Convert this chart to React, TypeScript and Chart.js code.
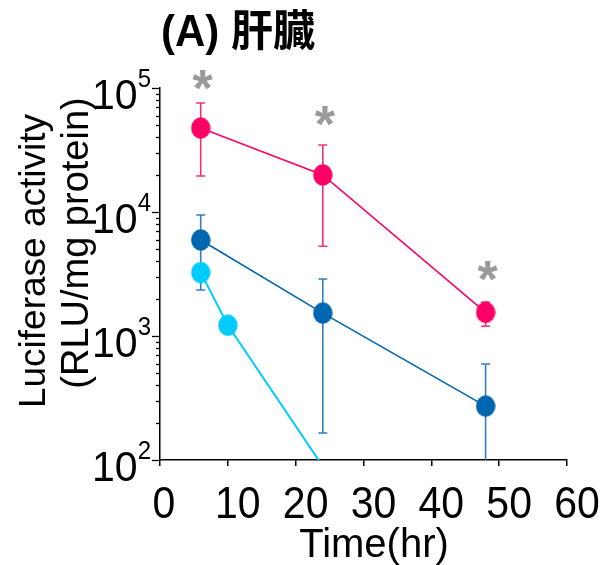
import React, { useEffect, useRef } from 'react';
import { Chart, registerables } from 'chart.js';

Chart.register(...registerables);

// ---- data ----
const timeA = [6, 24, 48];
const seriesA = [47500, 19900, 1550];
const seriesAHi = [75700, 34700, 1870];
const seriesALo = [19500, 5300, 1200];

const timeB = [6, 24, 48];
const seriesB = [5950, 1530, 272];
const seriesBHi = [9460, 2880, 594];
const seriesBLo = [2350, 165, 40];

const timeC = [6, 10, 48];
const seriesC = [3250, 1220, 1];

const sigTimes = [6, 24, 48];
const sigLevels = [116000, 59000, 3340];

const xTickValues = [0, 10, 20, 30, 40, 50, 60];
const yDecades = [100, 1000, 10000, 100000];
const yExponents = ['2', '3', '4', '5'];

const titleText = '(A) 肝臓';
const xTitle = 'Time(hr)';
const yTitleLines = ['Luciferase activity', '(RLU/mg protein)'];

const COL_A = '#FF0066';
const COL_B = '#0066B0';
const COL_C = '#00CCFF';
const BAR_A = 'rgba(235,40,110,0.95)';
const BAR_B = 'rgba(40,120,190,0.95)';
const SIG = '#9a9a9a';
const FONT = "'Liberation Sans', Arial, sans-serif";

function makeDot(color: string): HTMLCanvasElement {
  const c = document.createElement('canvas');
  c.width = 20;
  c.height = 22;
  const g = c.getContext('2d')!;
  g.fillStyle = color;
  g.beginPath();
  g.ellipse(10, 11, 9.7, 10.7, 0, 0, Math.PI * 2);
  g.fill();
  return c;
}

function txt(ctx: CanvasRenderingContext2D, s: string, x: number, y: number, font: string, align: CanvasTextAlign, sy = 1) {
  ctx.save();
  ctx.font = font;
  ctx.textAlign = align;
  ctx.textBaseline = 'alphabetic';
  ctx.translate(x, y);
  ctx.scale(1, sy);
  ctx.fillText(s, 0, 0);
  ctx.restore();
}

const overlay = {
  id: 'overlay',
  beforeDatasetsDraw(chart: any) {
    const ctx: CanvasRenderingContext2D = chart.ctx;
    const xs = chart.scales.x;
    const ys = chart.scales.y;
    const ca = chart.chartArea;
    ctx.save();
    ctx.beginPath();
    ctx.rect(ca.left - 20, ca.top - 20, ca.right - ca.left + 40, ca.bottom - ca.top + 20);
    ctx.clip();
    const groups = [
      { t: timeA, hi: seriesAHi, lo: seriesALo, col: BAR_A },
      { t: timeB, hi: seriesBHi, lo: seriesBLo, col: BAR_B },
    ];
    ctx.lineWidth = 1.6;
    for (const g of groups) {
      ctx.strokeStyle = g.col;
      g.t.forEach((t, i) => {
        const x = xs.getPixelForValue(t);
        const yh = ys.getPixelForValue(g.hi[i]);
        const yl = ys.getPixelForValue(g.lo[i]);
        ctx.beginPath();
        ctx.moveTo(x, yh);
        ctx.lineTo(x, yl);
        ctx.moveTo(x - 4.5, yh);
        ctx.lineTo(x + 4.5, yh);
        ctx.moveTo(x - 4.5, yl);
        ctx.lineTo(x + 4.5, yl);
        ctx.stroke();
      });
    }
    ctx.restore();
  },
  afterDraw(chart: any) {
    const ctx: CanvasRenderingContext2D = chart.ctx;
    const xs = chart.scales.x;
    const ys = chart.scales.y;
    const ca = chart.chartArea;
    ctx.save();
    ctx.fillStyle = '#000';
    ctx.strokeStyle = '#000';
    // y ticks (major + minor)
    ctx.lineWidth = 1.3;
    for (let d = 0; d < yDecades.length; d++) {
      const dec = yDecades[d];
      const maxK = d === yDecades.length - 1 ? 1 : 9;
      for (let k = 1; k <= maxK; k++) {
        const y = Math.round(ys.getPixelForValue(dec * k)) + 0.5;
        const len = k === 1 ? 8 : 4;
        ctx.beginPath();
        ctx.moveTo(ca.left - len, y);
        ctx.lineTo(ca.left, y);
        ctx.stroke();
      }
    }
    // y tick labels 10^n
    yDecades.forEach((v, i) => {
      const y = ys.getPixelForValue(v);
      const supFont = `24px ${FONT}`;
      ctx.font = supFont;
      const sw = ctx.measureText(yExponents[i]).width;
      const right = ca.left - 9;
      txt(ctx, yExponents[i], right, y - 1, supFont, 'right', 1.05);
      txt(ctx, '10', right - sw, y + 21, `41px ${FONT}`, 'right', 1.05);
    });
    // x tick labels
    xTickValues.forEach((v) => {
      const s = String(v);
      const x = xs.getPixelForValue(v) + (s.length > 1 ? 10 : 4);
      txt(ctx, s, x, 518, `41px ${FONT}`, 'center', 1.07);
    });
    // x title
    txt(ctx, xTitle, 374, 557, `40px ${FONT}`, 'center');
    // y title
    const yFonts = [`37px ${FONT}`, `38px ${FONT}`];
    const centers = [261, 243];
    const baseX = [45, 88];
    yTitleLines.forEach((line, i) => {
      ctx.save();
      ctx.translate(baseX[i], centers[i]);
      ctx.rotate(-Math.PI / 2);
      ctx.font = yFonts[i];
      ctx.textAlign = 'center';
      ctx.textBaseline = 'alphabetic';
      ctx.fillText(line, 0, 0);
      ctx.restore();
    });
    // title
    txt(ctx, titleText, 161, 46, `bold 42px ${FONT}, 'Noto Sans CJK JP'`, 'left', 1.04);
    // significance asterisks
    const sigFont = `bold 52px ${FONT}`;
    ctx.font = sigFont;
    const m = ctx.measureText('*');
    const off = (m.actualBoundingBoxAscent - m.actualBoundingBoxDescent) / 2;
    ctx.fillStyle = SIG;
    sigTimes.forEach((t, i) => {
      const x = xs.getPixelForValue(t) + 2;
      const y = ys.getPixelForValue(sigLevels[i]);
      ctx.font = sigFont;
      ctx.textAlign = 'center';
      ctx.textBaseline = 'alphabetic';
      ctx.fillText('*', x, y + off);
    });
    ctx.restore();
  },
};

export default function App() {
  const ref = useRef<HTMLCanvasElement>(null);
  useEffect(() => {
    document.body.style.margin = '0';
    const canvas = ref.current!;
    const dotA = makeDot(COL_A);
    const dotB = makeDot(COL_B);
    const dotC = makeDot(COL_C);
    const mk = (t: number[], v: number[]) => t.map((x, i) => ({ x, y: v[i] }));
    const chart = new Chart(canvas, {
      type: 'line',
      data: {
        datasets: [
          { label: 'A', data: mk(timeA, seriesA), borderColor: COL_A, backgroundColor: COL_A, borderWidth: 1.6, pointStyle: dotA as any, pointRadius: 10 },
          { label: 'B', data: mk(timeB, seriesB), borderColor: COL_B, backgroundColor: COL_B, borderWidth: 1.6, pointStyle: dotB as any, pointRadius: 10 },
          { label: 'C', data: mk(timeC, seriesC), borderColor: COL_C, backgroundColor: COL_C, borderWidth: 2, pointStyle: dotC as any, pointRadius: 10 },
        ],
      },
      options: {
        animation: false,
        responsive: false,
        devicePixelRatio: 1,
        layout: { padding: { top: 88, right: 39, bottom: 0, left: 0 } },
        plugins: { legend: { display: false }, tooltip: { enabled: false }, title: { display: false } },
        scales: {
          x: {
            type: 'linear',
            min: 0,
            max: 60,
            ticks: { display: false, stepSize: 10 },
            grid: { display: true, drawOnChartArea: false, drawTicks: true, tickLength: 6, color: '#000', lineWidth: 1.5 },
            border: { display: true, color: '#000', width: 1.5 },
            afterFit: (s: any) => { s.height = 105; },
          },
          y: {
            type: 'logarithmic',
            min: 100,
            max: 100000,
            ticks: { display: false },
            grid: { display: false },
            border: { display: true, color: '#000', width: 1.5 },
            afterFit: (s: any) => { s.width = 160; },
          },
        },
      },
      plugins: [overlay],
    });
    return () => chart.destroy();
  }, []);
  return <canvas ref={ref} width={606} height={565} style={{ display: 'block' }} />;
}
